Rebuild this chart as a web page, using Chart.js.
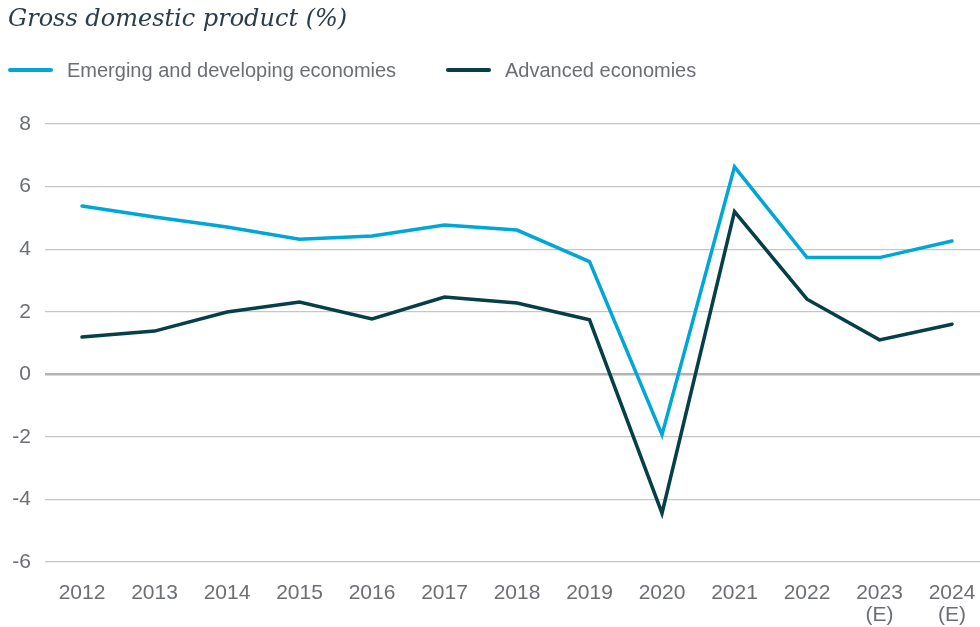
<!DOCTYPE html>
<html><head><meta charset="utf-8">
<script src="https://cdn.jsdelivr.net/npm/chart.js@4"></script>
<style>
html,body{margin:0;padding:0;background:#fff;}
#wrap{position:relative;width:980px;height:627px;overflow:hidden;}
#title{position:absolute;left:8px;top:6px;font:italic 24px/24px "DejaVu Serif",serif;color:#2b3c4b;white-space:nowrap;}
.item{position:absolute;top:60px;height:20px;display:flex;align-items:center;font:20px/20px "Liberation Sans",Arial,sans-serif;color:#6b6e72;white-space:nowrap;}
.sw{width:45px;height:4px;border-radius:2px;margin-right:14px;}
canvas{position:absolute;left:0;top:0;}
</style></head>
<body>
<div id="wrap">
<canvas id="c" width="980" height="627"></canvas>
<div id="title">Gross domestic product (%)</div>
<div class="item" style="left:8px"><span class="sw" style="background:#00a6d6"></span><span>Emerging and developing economies</span></div>
<div class="item" style="left:446px"><span class="sw" style="background:#053f48"></span><span>Advanced economies</span></div>
</div>
<script>
const years = ['2012','2013','2014','2015','2016','2017','2018','2019','2020','2021','2022',['2023','(E)'],['2024','(E)']];
const emerging = [5.38,5.03,4.71,4.32,4.42,4.77,4.61,3.60,-1.93,6.63,3.73,3.73,4.26];
const advanced = [1.19,1.38,1.99,2.31,1.77,2.47,2.28,1.74,-4.44,5.20,2.40,1.10,1.60];
const yTicks = [-6,-4,-2,0,2,4,6,8];
const seriesNames = ['Emerging and developing economies','Advanced economies'];

const tickColor = '#6b6e72';
const toPts = arr => arr.map((v,i)=>({x:i,y:v}));

new Chart(document.getElementById('c'), {
  type: 'line',
  data: {
    datasets: [
      {label: seriesNames[0], data: toPts(emerging), borderColor:'#00a6d6', backgroundColor:'#00a6d6', borderWidth:3.5, pointRadius:0, tension:0, borderCapStyle:'round', borderJoinStyle:'miter'},
      {label: seriesNames[1], data: toPts(advanced), borderColor:'#053f48', backgroundColor:'#053f48', borderWidth:3.5, pointRadius:0, tension:0, borderCapStyle:'round', borderJoinStyle:'miter'}
    ]
  },
  options: {
    responsive:false, animation:false,
    layout:{padding:{top:124,left:0,right:0,bottom:2}},
    plugins:{legend:{display:false}, title:{display:false}, tooltip:{enabled:false}},
    scales:{
      x:{
        type:'linear', min:-0.5103, max:12.386,
        afterBuildTicks: s => { s.ticks = years.map((_,i)=>({value:i})); },
        afterFit: s => { s.height = 63; s.paddingLeft = 0; s.paddingRight = 0; s.paddingTop = 0; s.paddingBottom = 0; },
        grid:{display:false, drawTicks:false}, border:{display:false},
        ticks:{autoSkip:false, maxRotation:0, minRotation:0, padding:20, color:tickColor,
          font:{family:'"Liberation Sans", Arial, sans-serif', size:21, lineHeight:1.05},
          callback: v => years[v]}
      },
      y:{
        min:-6, max:8,
        afterBuildTicks: s => { s.ticks = yTicks.map(v=>({value:v})); },
        afterFit: s => { s.width = 45; },
        border:{display:false},
        grid:{drawTicks:false, color: c => c.tick && c.tick.value===0 ? '#b3b3b3' : '#c6c6c6',
              lineWidth: c => c.tick && c.tick.value===0 ? 2.5 : 1.2},
        ticks:{padding:14, color:tickColor, font:{family:'"Liberation Sans", Arial, sans-serif', size:21}}
      }
    }
  }
});
</script>
</body></html>
